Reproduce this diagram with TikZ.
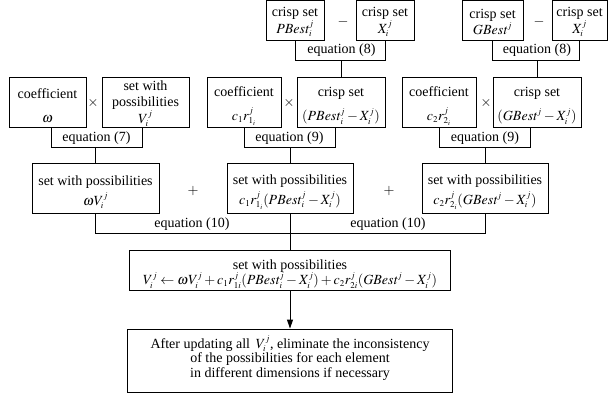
\documentclass[tikz,border=0pt]{standalone}
\usepackage{mathptmx}
\usepackage{fontspec}
\setmainfont{Liberation Serif}
\usetikzlibrary{arrows.meta}
\DeclareMathSizes{14}{14}{9}{7}
\newcommand{\fs}[2]{\fontsize{#1}{#2}\selectfont\lineskiplimit=-30pt\relax}
\begin{document}
\begin{tikzpicture}[x=1pt,y=-1pt,line width=0.9pt,
  bx/.style={draw, inner sep=0pt},
  tx/.style={inner sep=0pt, align=center, font=\fs{14}{16.5}},
  lbl/.style={inner sep=0pt, font=\fs{14}{15}}]
\useasboundingbox (0,0) rectangle (608,399);
% helper levels
\coordinate (y8) at (0,60);
\coordinate (y79) at (0,147);
\coordinate (y10) at (0,233);
% top row
\node[bx, minimum width=58, minimum height=40] (pb) at (295,20) {};
\node[tx] (pbt) at ([yshift=-2]pb) {crisp set\\$\mathit{PBest}_i^j$};
\node[bx, minimum width=58, minimum height=40] (xa) at (385,20) {};
\node[tx] (xat) at ([yshift=-2]xa) {crisp set\\$X_i^j$};
\node[lbl] (m1) at (343,22) {$-$};
\node[bx, minimum width=61, minimum height=40] (gb) at (492.5,20) {};
\node[tx] (gbt) at ([yshift=-2]gb) {crisp set\\$\mathit{GBest}^j$};
\node[bx, minimum width=55, minimum height=40] (xb) at (579.5,20) {};
\node[tx] (xbt) at ([yshift=-2]xb) {crisp set\\$X_i^j$};
\node[lbl] (m2) at (539,22) {$-$};
\node[lbl] (e8a) at (341.5,50) {equation (8)};
\node[lbl] (e8b) at (537,50) {equation (8)};
% second row
\node[bx, minimum width=77, minimum height=50] (c1) at (47.5,102) {};
\node[tx, font=\fs{14}{24}] (c1t) at ([yshift=-4]c1) {coefficient\\$\omega$};
\node[bx, minimum width=87, minimum height=50] (v1) at (145.5,102) {};
\node[tx, font=\fs{14}{16.5}] (v1t) at ([yshift=-1.5]v1) {set with\\possibilities\\$V_i^j$};
\node[lbl] (t1) at (93,103) {$\times$};
\node[bx, minimum width=74, minimum height=50] (c2) at (244,102) {};
\node[tx, font=\fs{14}{24}] (c2t) at ([yshift=-4]c2) {coefficient\\$c_1r_{1_i}^j$};
\node[bx, minimum width=88, minimum height=50] (p2) at (341,102) {};
\node[tx, font=\fs{14}{24}] (p2t) at ([yshift=-4]p2) {crisp set\\$(\mathit{PBest}_i^j-X_i^j)$};
\node[lbl] (t2) at (289,103) {$\times$};
\node[bx, minimum width=74, minimum height=50] (c3) at (439,102) {};
\node[tx, font=\fs{14}{24}] (c3t) at ([yshift=-4]c3) {coefficient\\$c_2r_{2_i}^j$};
\node[bx, minimum width=88, minimum height=50] (g3) at (537,102) {};
\node[tx, font=\fs{14}{24}] (g3t) at ([yshift=-4]g3) {crisp set\\$(\mathit{GBest}^j-X_i^j)$};
\node[lbl] (t3) at (486,103) {$\times$};
\node[lbl] (e7) at (96.5,138) {equation (7)};
\node[lbl] (e9a) at (289.5,138) {equation (9)};
\node[lbl] (e9b) at (485,138) {equation (9)};
% third row
\node[bx, minimum width=127, minimum height=50] (s1) at (95.5,188) {};
\node[tx, font=\fs{14}{20}] (s1t) at ([yshift=-4]s1) {set with possibilities\\$\omega V_i^j$};
\node[bx, minimum width=126, minimum height=50] (s2) at (290,188) {};
\node[tx, font=\fs{14}{20}] (s2t) at ([yshift=-4]s2) {set with possibilities\\$c_1r_{1_i}^j(\mathit{PBest}_i^j-X_i^j)$};
\node[bx, minimum width=126, minimum height=50] (s3) at (485,188) {};
\node[tx, font=\fs{14}{20}] (s3t) at ([yshift=-4]s3) {set with possibilities\\$c_2r_{2_i}^j(\mathit{GBest}^j-X_i^j)$};
\node[lbl] (p1) at (193,191) {$+$};
\node[lbl] (p2s) at (389,191) {$+$};
\node[lbl] (e10a) at (192,224) {equation (10)};
\node[lbl] (e10b) at (388,224) {equation (10)};
% final
\node[bx, minimum width=321, minimum height=40] (fin) at (290,270) {};
\node[tx, font=\fs{14}{15.5}] (fint) at ([yshift=-4]fin) {set with possibilities\\$V_i^j\leftarrow\omega V_i^j+c_1r_{1i}^j(\mathit{PBest}_i^j-X_i^j)+c_2r_{2i}^j(\mathit{GBest}^j-X_i^j)$};
\node[bx, minimum width=325, minimum height=63] (bot) at (290,360.5) {};
\node[tx, font=\fs{14}{14.5}] (bott) at ([yshift=2.5]bot) {After updating all \,$V_i^j$, eliminate the inconsistency\\of the possibilities for each element\\in different dimensions if necessary};
% connectors
\draw (pb.south) -- (pb.south |- y8) -- (xa.south |- y8) -- (xa.south);
\draw (p2.north) -- (p2.north |- y8);
\draw (gb.south) -- (gb.south |- y8) -- (xb.south |- y8) -- (xb.south);
\draw (g3.north) -- (g3.north |- y8);
\draw ([xshift=3.5]c1.south) -- ([xshift=3.5]c1.south |- y79) -- ([xshift=-3.5]v1.south |- y79) -- ([xshift=-3.5]v1.south);
\draw (s1.north) -- (s1.north |- y79);
\draw (c2.south) -- (c2.south |- y79) -- ([xshift=-6]p2.south |- y79) -- ([xshift=-6]p2.south);
\draw (s2.north) -- (s2.north |- y79);
\draw (c3.south) -- (c3.south |- y79) -- ([xshift=-7]g3.south |- y79) -- ([xshift=-7]g3.south);
\draw (s3.north) -- (s3.north |- y79);
\draw (s1.south) -- (s1.south |- y10) -- (s3.south |- y10) -- (s3.south);
\draw (s2.south) -- (fin.north);
\draw[-{Triangle[length=9pt,width=6pt]}] (fin.south) -- (bot.north);
\end{tikzpicture}
\end{document}
